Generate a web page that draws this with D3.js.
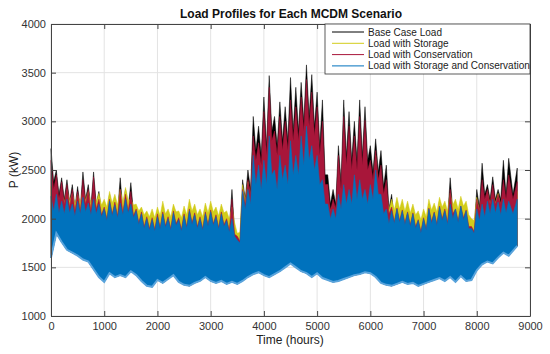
<!DOCTYPE html>
<html>
<head>
<meta charset="utf-8">
<script src="https://cdn.jsdelivr.net/npm/d3@7"></script>
<style>
    body { margin: 0; background: #fff; }
    svg { display: block; font-family: "Liberation Sans", Arial, sans-serif; }
</style>
</head>
<body>
<svg id="chart" width="550" height="354"></svg>
<script>
// hourly load: for every 100-hour block the peak (at the block start)
// and the dip between peaks (half way to the next block), in kW
const hours = d3.range(0, 8700, 100).concat([8760]);

const basePeak = [
    2720, 2500, 2420, 2400, 2350, 2330, 2480, 2350, 2480, 2280,
    2150, 2250, 2200, 2420, 2300, 2370, 2130, 2100, 2050, 2040,
    2080, 2100, 2050, 2110, 2040, 2080, 2130, 2090, 2050, 2100,
    2120, 2070, 2100, 2030, 2300, 1820, 2400, 2500, 3050, 2950,
    3250, 3470, 3050, 3200, 3150, 3450, 3350, 3400, 3580, 3480,
    3300, 3220, 2450, 2300, 2750, 3220, 3100, 3000, 3220, 3150,
    2750, 2820, 2700, 2550, 2250, 2150, 2130, 2110, 2100, 2030,
    2050, 2150, 2110, 2180, 2140, 2420, 2150, 2170, 2120, 1950,
    2300, 2570, 2350, 2430, 2300, 2600, 2620, 2520
];
const baseDip = [
    2380, 2250, 2200, 2170, 2120, 2110, 2200, 2120, 2150, 2070,
    2020, 2080, 2050, 2100, 2110, 2060, 1980, 1940, 1920, 1910,
    1930, 1950, 1920, 1970, 1910, 1940, 1980, 1940, 1920, 1960,
    1970, 1930, 1960, 1900, 1860, 1790, 2200, 2300, 2700, 2650,
    2750, 2900, 2750, 2800, 2800, 2900, 2900, 3000, 3050, 2950,
    2750, 2450, 2150, 2150, 2380, 2650, 2600, 2600, 2650, 2600,
    2480, 2480, 2330, 2100, 1990, 2000, 1980, 1960, 1940, 1890,
    1920, 1990, 1970, 2020, 1980, 2080, 2000, 2030, 1940, 1890,
    2120, 2250, 2200, 2200, 2200, 2250, 2250
];
const storagePeak = [
    2330, 2300, 2280, 2300, 2260, 2250, 2300, 2280, 2250, 2260,
    2200, 2280, 2250, 2300, 2320, 2200, 2150, 2120, 2080, 2100,
    2120, 2180, 2100, 2150, 2080, 2130, 2200, 2150, 2100, 2160,
    2180, 2120, 2150, 2080, 2120, 1850, 2350, 2380, 2700, 2600,
    2700, 2900, 2600, 2750, 2650, 2900, 2750, 2950, 3050, 2850,
    2750, 2500, 2200, 2150, 2350, 2450, 2400, 2550, 2500, 2400,
    2450, 2650, 2400, 2250, 2200, 2220, 2200, 2180, 2150, 2080,
    2100, 2200, 2160, 2220, 2180, 2260, 2200, 2230, 2180, 2000,
    2220, 2250, 2270, 2280, 2260, 2280, 2270, 2280
];
const storageDip = [
    2200, 2180, 2170, 2180, 2150, 2160, 2190, 2160, 2170, 2140,
    2120, 2160, 2140, 2170, 2190, 2140, 2080, 2040, 2020, 2010,
    2030, 2050, 2020, 2070, 2010, 2040, 2080, 2040, 2020, 2060,
    2070, 2030, 2060, 2000, 1960, 1860, 2180, 2220, 2420, 2380,
    2420, 2520, 2380, 2480, 2420, 2530, 2520, 2620, 2680, 2580,
    2430, 2230, 2080, 2080, 2180, 2230, 2230, 2280, 2280, 2230,
    2280, 2330, 2130, 2090, 2090, 2100, 2080, 2060, 2040, 1990,
    2020, 2090, 2070, 2120, 2080, 2140, 2100, 2130, 2040, 1980,
    2080, 2120, 2150, 2160, 2140, 2160, 2150
];
const conservationPeak = [
    2600, 2450, 2380, 2350, 2300, 2280, 2400, 2300, 2430, 2200,
    2120, 2200, 2170, 2300, 2250, 2280, 2100, 2070, 2020, 2010,
    2050, 2070, 2020, 2080, 2010, 2050, 2100, 2060, 2020, 2070,
    2090, 2040, 2070, 2000, 2200, 1820, 2300, 2400, 2850, 2780,
    3100, 3350, 2900, 3050, 3000, 3220, 3150, 3250, 3430, 3300,
    3150, 3000, 2350, 2200, 2650, 3050, 2950, 2850, 3050, 3010,
    2600, 2700, 2550, 2400, 2120, 2110, 2090, 2070, 2060, 1990,
    2010, 2110, 2070, 2130, 2100, 2300, 2100, 2130, 2090, 1920,
    2200, 2400, 2300, 2350, 2250, 2400, 2450, 2380
];
const conservationDip = [
    2300, 2200, 2150, 2120, 2080, 2080, 2150, 2080, 2100, 2040,
    2000, 2050, 2030, 2060, 2080, 2030, 1960, 1920, 1900, 1890,
    1910, 1930, 1900, 1950, 1890, 1920, 1960, 1920, 1900, 1940,
    1950, 1910, 1940, 1880, 1840, 1770, 2150, 2250, 2600, 2550,
    2650, 2800, 2650, 2700, 2700, 2800, 2800, 2900, 2950, 2850,
    2650, 2350, 2080, 2100, 2300, 2550, 2500, 2500, 2550, 2500,
    2400, 2400, 2250, 2050, 1970, 1980, 1960, 1940, 1920, 1870,
    1900, 1970, 1950, 2000, 1960, 2050, 1980, 2010, 1920, 1870,
    2080, 2200, 2150, 2150, 2150, 2200, 2200
];
const storageConsPeak = [
    2230, 2250, 2180, 2200, 2150, 2180, 2220, 2160, 2200, 2150,
    2100, 2180, 2140, 2160, 2200, 2150, 2080, 2050, 2000, 1990,
    2020, 2050, 2000, 2060, 1990, 2030, 2080, 2040, 2000, 2050,
    2070, 2020, 2050, 1980, 2000, 1780, 2280, 2300, 2650, 2550,
    2600, 2850, 2500, 2650, 2550, 2800, 2650, 2850, 2950, 2750,
    2650, 2400, 2150, 2100, 2250, 2350, 2300, 2450, 2400, 2300,
    2350, 2500, 2250, 2100, 2080, 2100, 2080, 2060, 2050, 1980,
    2000, 2100, 2060, 2120, 2080, 2150, 2100, 2130, 2080, 1900,
    2100, 2150, 2180, 2200, 2170, 2200, 2180, 2200
];
const storageConsDip = [
    2080, 2060, 2050, 2060, 2030, 2050, 2070, 2040, 2050, 2020,
    1980, 2030, 2010, 2040, 2060, 2010, 1940, 1900, 1880, 1870,
    1890, 1910, 1880, 1930, 1870, 1900, 1940, 1900, 1880, 1920,
    1930, 1890, 1920, 1860, 1820, 1750, 2100, 2150, 2350, 2300,
    2350, 2450, 2300, 2400, 2350, 2450, 2450, 2550, 2600, 2500,
    2350, 2150, 2000, 2000, 2100, 2150, 2150, 2200, 2200, 2150,
    2200, 2250, 2050, 1950, 1950, 1960, 1940, 1920, 1900, 1850,
    1880, 1950, 1930, 1980, 1940, 2000, 1960, 1990, 1900, 1850,
    1980, 2020, 2050, 2060, 2040, 2060, 2050
];
// lower envelope of the load (minimum hours)
const minLoad = [
    1600, 1850, 1760, 1680, 1650, 1620, 1580, 1560, 1480, 1400,
    1350, 1440, 1400, 1420, 1400, 1460, 1420, 1360, 1310, 1300,
    1370, 1340, 1380, 1420, 1350, 1320, 1310, 1340, 1360, 1400,
    1360, 1340, 1360, 1330, 1350, 1330, 1360, 1400, 1430, 1450,
    1420, 1400, 1430, 1460, 1500, 1540, 1500, 1460, 1440, 1400,
    1440, 1390, 1370, 1350, 1360, 1380, 1400, 1420, 1430, 1450,
    1440, 1400, 1340, 1320, 1310, 1330, 1350, 1330, 1340, 1310,
    1330, 1350, 1370, 1390, 1360, 1400, 1350, 1410, 1360, 1370,
    1470, 1530, 1560, 1540, 1600, 1650, 1620, 1720
];

const seriesNames = ["Base Case Load", "Load with Storage", "Load with Conservation", "Load with Storage and Conservation"];
const seriesColors = ["#000000", "#d2cc1a", "#a8163a", "#0072bd"];
const seriesPeaks = [basePeak, storagePeak, conservationPeak, storageConsPeak];
const seriesDips = [baseDip, storageDip, conservationDip, storageConsDip];

const xTicks = [0, 1000, 2000, 3000, 4000, 5000, 6000, 7000, 8000, 9000];
const yTicks = [1000, 1500, 2000, 2500, 3000, 3500, 4000];

let svg = d3.select('#chart');
let x = d3.scaleLinear().domain([0, 9000]).range([51, 530]);
let y = d3.scaleLinear().domain([1000, 4000]).range([316, 24]);

// grid
let grid = svg.append('g').attr('stroke', '#e3e3e3').attr('stroke-width', 1);
xTicks.forEach((t) => {
    grid.append('line').attr('x1', x(t)).attr('x2', x(t)).attr('y1', y(1000)).attr('y2', y(4000));
});
yTicks.forEach((t) => {
    grid.append('line').attr('x1', x(0)).attr('x2', x(9000)).attr('y1', y(t)).attr('y2', y(t));
});

// peaks and dips alternate; lower edge follows minLoad
function buildPoints(peaks, dips) {
    let pts = [];
    hours.forEach((h, i) => {
        pts.push({ h: h, top: peaks[i], low: minLoad[i] });
        if (i < hours.length - 1) {
            pts.push({
                h: (h + hours[i + 1]) / 2,
                top: dips[i],
                low: (minLoad[i] + minLoad[i + 1]) / 2
            });
        }
    });
    return pts;
}

let area = d3.area()
    .x((d) => x(d.h))
    .y0((d) => y(d.low))
    .y1((d) => y(d.top));

// drawn in legend order, so the last series sits on top
seriesPeaks.forEach((peaks, k) => {
    svg.append('path')
        .datum(buildPoints(peaks, seriesDips[k]))
        .attr('d', area)
        .attr('fill', seriesColors[k])
        .attr('stroke', seriesColors[k])
        .attr('stroke-width', 0.5);
});

// lighter fringe on the lower edge of the blue series
let lowLine = d3.line().x((d, i) => x(hours[i])).y((d) => y(d));
svg.append('path')
    .datum(minLoad)
    .attr('d', lowLine)
    .attr('fill', 'none')
    .attr('stroke', '#5aa4dc')
    .attr('stroke-width', 2);

// axes (box with inward ticks)
function styleAxis(g) {
    g.select('.domain').attr('stroke', '#444');
    g.selectAll('.tick line').attr('stroke', '#444');
    g.selectAll('.tick text').attr('fill', '#333').attr('font-size', '11px')
        .attr('font-family', '"Liberation Sans", Arial, sans-serif');
}
let fmt = d3.format('d');
svg.append('g').attr('transform', 'translate(0,316)')
    .call(d3.axisBottom(x).tickValues(xTicks).tickFormat(fmt).tickSize(-5).tickSizeOuter(0).tickPadding(6))
    .call(styleAxis);
svg.append('g').attr('transform', 'translate(0,24)')
    .call(d3.axisTop(x).tickValues(xTicks).tickSize(-5).tickSizeOuter(0).tickFormat(''))
    .call(styleAxis);
svg.append('g').attr('transform', 'translate(51,0)')
    .call(d3.axisLeft(y).tickValues(yTicks).tickFormat(fmt).tickSize(-5).tickSizeOuter(0).tickPadding(5))
    .call(styleAxis);
svg.append('g').attr('transform', 'translate(530,0)')
    .call(d3.axisRight(y).tickValues(yTicks).tickSize(-5).tickSizeOuter(0).tickFormat(''))
    .call(styleAxis);

// legend
let legend = svg.append('g');
legend.append('rect')
    .attr('x', 325).attr('y', 24).attr('width', 205).attr('height', 50)
    .attr('fill', '#fff').attr('stroke', '#333').attr('stroke-width', 0.8);
seriesNames.forEach((name, k) => {
    let ly = 32 + k * 11.3;
    legend.append('line')
        .attr('x1', 332).attr('x2', 364).attr('y1', ly).attr('y2', ly)
        .attr('stroke', seriesColors[k]).attr('stroke-width', 1);
    legend.append('text')
        .attr('x', 368).attr('y', ly).attr('dy', '0.35em')
        .attr('font-size', '10px').attr('fill', '#222')
        .text(name);
});

// title and labels
svg.append('text')
    .attr('x', 291).attr('y', 18).attr('text-anchor', 'middle')
    .attr('font-size', '12px').attr('font-weight', 'bold').attr('fill', '#111')
    .text('Load Profiles for Each MCDM Scenario');
svg.append('text')
    .attr('x', 290).attr('y', 344).attr('text-anchor', 'middle')
    .attr('font-size', '12px').attr('fill', '#222')
    .text('Time (hours)');
svg.append('text')
    .attr('transform', 'translate(18,170) rotate(-90)')
    .attr('text-anchor', 'middle')
    .attr('font-size', '12px').attr('fill', '#222')
    .text('P (kW)');
</script>
</body>
</html>
